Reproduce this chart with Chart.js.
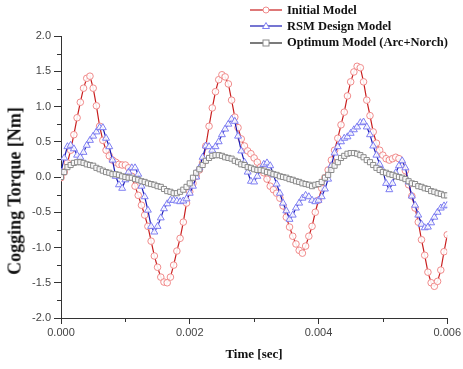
<!DOCTYPE html>
<html>
<head>
<meta charset="utf-8">
<script src="https://cdn.jsdelivr.net/npm/chart.js@4.4.0/dist/chart.umd.min.js"></script>
<style>
  html, body { margin: 0; padding: 0; background: #fff; }
  #wrap { position: relative; width: 463px; height: 369px; }
  #legend { position: absolute; left: 250px; top: 2px; font: bold 12.5px "Liberation Serif", "Times New Roman", serif; color: #111; }
  .row { height: 16.3px; display: flex; align-items: center; white-space: nowrap; }
  .row svg { margin-right: 4px; }
  .axis-title { position: absolute; font-family: "Liberation Serif", "Times New Roman", serif; font-weight: bold; color: #111; white-space: nowrap; }
  #yTitle { left: 15px; top: 191px; font-size: 18px; transform: translate(-50%, -50%) rotate(-90deg); }
  #xTitle { left: 254px; top: 354px; font-size: 13px; transform: translate(-50%, -50%); }
</style>
</head>
<body>
<div id="wrap">
  <canvas id="torqueChart" width="463" height="369"></canvas>
  <div id="legend"></div>
  <div class="axis-title" id="yTitle">Cogging Torque [Nm]</div>
  <div class="axis-title" id="xTitle">Time [sec]</div>
</div>
<script>
// one sample every 0.05 ms, 0 .. 6 ms
const sampleStep = 0.00005;

const initialModel = [
  -0.01, 0.07, 0.20, 0.38, 0.60, 0.84, 1.06, 1.26, 1.40, 1.43,
  1.26, 1.01, 0.72, 0.52, 0.38, 0.30, 0.24, 0.21, 0.18, 0.17,
  0.17, 0.13, 0.01, -0.13, -0.26, -0.40, -0.54, -0.70, -0.91, -1.12,
  -1.28, -1.42, -1.49, -1.50, -1.42, -1.25, -1.05, -0.87, -0.64, -0.37,
  -0.21, -0.09, 0.01, 0.10, 0.20, 0.44, 0.72, 0.98, 1.21, 1.38,
  1.45, 1.42, 1.32, 1.09, 0.85, 0.70, 0.54, 0.44, 0.37, 0.33,
  0.27, 0.21, 0.14, 0.06, -0.03, -0.13, -0.18, -0.23, -0.30, -0.41,
  -0.57, -0.71, -0.84, -0.95, -1.04, -1.08, -0.98, -0.84, -0.70, -0.50,
  -0.33, -0.16, -0.01, 0.10, 0.24, 0.38, 0.55, 0.74, 0.92, 1.15,
  1.35, 1.49, 1.57, 1.55, 1.35, 1.09, 0.87, 0.64, 0.48, 0.38,
  0.31, 0.26, 0.24, 0.26, 0.28, 0.26, 0.18, 0.09, -0.11, -0.27,
  -0.44, -0.64, -0.89, -1.11, -1.35, -1.50, -1.55, -1.48, -1.32, -1.06, -0.82
];

const rsmModel = [
  0.07, 0.27, 0.43, 0.45, 0.40, 0.31, 0.28, 0.35, 0.45, 0.52,
  0.58, 0.64, 0.70, 0.70, 0.55, 0.43, 0.24, 0.01, -0.11, -0.16,
  -0.04, 0.07, 0.13, 0.13, 0.04, -0.13, -0.28, -0.47, -0.70, -0.78,
  -0.70, -0.58, -0.45, -0.38, -0.33, -0.33, -0.34, -0.35, -0.34, -0.31,
  -0.23, -0.13, 0.00, 0.13, 0.28, 0.44, 0.43, 0.38, 0.43, 0.50,
  0.60, 0.68, 0.75, 0.82, 0.79, 0.58, 0.37, 0.21, 0.07, -0.06,
  -0.07, 0.01, 0.10, 0.18, 0.20, 0.16, 0.03, -0.10, -0.23, -0.37,
  -0.48, -0.60, -0.54, -0.44, -0.37, -0.30, -0.26, -0.28, -0.33, -0.35,
  -0.33, -0.28, -0.17, -0.03, 0.16, 0.34, 0.43, 0.50, 0.55, 0.57,
  0.62, 0.67, 0.71, 0.77, 0.78, 0.71, 0.60, 0.44, 0.31, 0.18,
  0.09, -0.09, -0.18, -0.09, 0.06, 0.16, 0.23, 0.13, -0.07, -0.27,
  -0.40, -0.54, -0.67, -0.72, -0.71, -0.65, -0.57, -0.50, -0.44, -0.41, -0.40
];

const optimumModel = [
  0.00, 0.07, 0.14, 0.17, 0.20, 0.21, 0.21, 0.20, 0.18, 0.17,
  0.16, 0.13, 0.11, 0.09, 0.07, 0.06, 0.04, 0.04, 0.03, 0.01,
  0.00, -0.01, -0.01, -0.03, -0.04, -0.06, -0.07, -0.09, -0.10, -0.11,
  -0.13, -0.14, -0.17, -0.20, -0.21, -0.23, -0.23, -0.21, -0.18, -0.14,
  -0.09, -0.01, 0.06, 0.11, 0.17, 0.23, 0.27, 0.30, 0.31, 0.31,
  0.30, 0.28, 0.27, 0.26, 0.23, 0.21, 0.18, 0.17, 0.14, 0.13,
  0.11, 0.10, 0.10, 0.09, 0.07, 0.06, 0.04, 0.03, 0.01, 0.00,
  -0.01, -0.03, -0.04, -0.06, -0.07, -0.09, -0.10, -0.11, -0.13, -0.11,
  -0.10, -0.07, -0.01, 0.03, 0.10, 0.16, 0.21, 0.27, 0.30, 0.33,
  0.34, 0.34, 0.33, 0.31, 0.28, 0.24, 0.21, 0.17, 0.13, 0.10,
  0.07, 0.06, 0.04, 0.03, 0.01, 0.00, -0.01, -0.03, -0.06, -0.09,
  -0.10, -0.13, -0.14, -0.16, -0.17, -0.20, -0.21, -0.23, -0.24, -0.26, -0.26
];

const seriesNames = ["Initial Model", "RSM Design Model", "Optimum Model (Arc+Norch)"];
const xMinorTicks = [0.001, 0.003, 0.005];
const yMinorTicks = [-1.75, -1.25, -0.75, -0.25, 0.25, 0.75, 1.25, 1.75];

const timeSec = initialModel.map((_, i) => i * sampleStep);
const toPoints = vals => vals.map((v, i) => ({ x: timeSec[i], y: v }));

const styles = [
  { line: "#c81e1e", mark: "#f08a8a", shape: "circle", r: 3.3 },
  { line: "#1a1ab4", mark: "#7d7df2", shape: "triangle", r: 4 },
  { line: "#222222", mark: "#8a8a8a", shape: "rect", r: 3.6 }
];
const seriesValues = [initialModel, rsmModel, optimumModel];

// legend drawn as html so it can sit above the plot box like the original
const legendEl = document.getElementById("legend");
seriesNames.forEach((name, i) => {
  const s = styles[i];
  let marker;
  if (s.shape === "circle") marker = `<circle cx="16" cy="5" r="3" fill="#fff" stroke="${s.mark}"/>`;
  else if (s.shape === "triangle") marker = `<polygon points="16,1.5 19.5,7.5 12.5,7.5" fill="#fff" stroke="${s.mark}"/>`;
  else marker = `<rect x="13" y="2" width="6" height="6" fill="#fff" stroke="${s.mark}"/>`;
  const row = document.createElement("div");
  row.className = "row";
  row.innerHTML = `<svg width="33" height="10"><line x1="0" y1="5" x2="32" y2="5" stroke="${s.line}" stroke-width="1.2"/>${marker}</svg><span>${name}</span>`;
  legendEl.appendChild(row);
});

const minorTicks = {
  id: "minorTicks",
  afterDraw(chart) {
    const { ctx, scales: { x, y } } = chart;
    ctx.save();
    ctx.strokeStyle = "#333";
    ctx.lineWidth = 1;
    ctx.beginPath();
    yMinorTicks.forEach(v => {
      const py = Math.round(y.getPixelForValue(v)) + 0.5;
      ctx.moveTo(x.left - 4, py);
      ctx.lineTo(x.left, py);
    });
    xMinorTicks.forEach(v => {
      const px = Math.round(x.getPixelForValue(v)) + 0.5;
      ctx.moveTo(px, y.bottom);
      ctx.lineTo(px, y.bottom + 4);
    });
    ctx.stroke();
    ctx.restore();
  }
};

const ctx = document.getElementById("torqueChart").getContext("2d");

new Chart(ctx, {
  type: "line",
  data: {
    datasets: seriesValues.map((vals, i) => ({
      label: seriesNames[i],
      data: toPoints(vals),
      borderColor: styles[i].line,
      borderWidth: 1.2,
      pointStyle: styles[i].shape,
      pointRadius: styles[i].r,
      pointBorderColor: styles[i].mark,
      pointBackgroundColor: "rgba(255,255,255,0.9)",
      pointBorderWidth: 1,
      tension: 0,
      order: 3 - i
    }))
  },
  options: {
    responsive: false,
    animation: false,
    layout: { padding: { top: 36, right: 15, left: 0, bottom: 0 } },
    plugins: { legend: { display: false }, tooltip: { enabled: false } },
    scales: {
      x: {
        type: "linear",
        min: 0,
        max: 0.006,
        afterFit: scale => { scale.height = 51; },
        ticks: {
          stepSize: 0.002,
          padding: 2,
          color: "#444",
          font: { family: "'Liberation Sans', Arial, sans-serif", size: 11 },
          callback: v => v.toFixed(3),
          maxRotation: 0
        },
        grid: { drawOnChartArea: false, tickLength: 6, color: "#333" },
        border: { color: "#333", width: 1 }
      },
      y: {
        min: -2,
        max: 2,
        afterFit: scale => { scale.width = 61; },
        ticks: {
          stepSize: 0.5,
          padding: 3,
          color: "#444",
          font: { family: "'Liberation Sans', Arial, sans-serif", size: 11 },
          callback: v => v.toFixed(1)
        },
        grid: { drawOnChartArea: false, tickLength: 7, color: "#333" },
        border: { color: "#333", width: 1 }
      }
    }
  },
  plugins: [minorTicks]
});
</script>
</body>
</html>
